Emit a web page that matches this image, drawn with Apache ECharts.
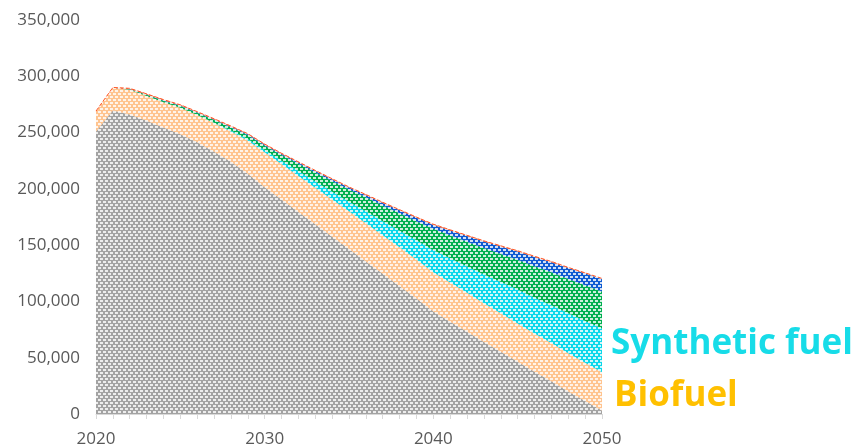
<!DOCTYPE html>
<html>
<head>
<meta charset="utf-8">
<script src="https://cdn.jsdelivr.net/npm/echarts@6/dist/echarts.min.js"></script>
<style>
html,body{margin:0;padding:0;background:#fff;}
#chart{width:857px;height:448px;}
</style>
</head>
<body>
<div id="chart"></div>
<script>
const years = [];
for (let y = 2020; y <= 2050; y++) years.push(String(y));

const fossil = [251000,269500,266000,260500,254500,248500,241500,233000,224000,213500,
  201500,190500,179500,168500,157500,146500,135500,124500,113500,102500,
  91000,82000,73000,64000,55200,46500,37500,29000,20000,11500,3000];
const biofuel = [17500,20000,22000,22000,22500,23500,24000,25500,27000,29500,
  31000,31500,32000,32500,33000,33500,34000,34300,34600,34800,
  35000,34800,34600,34400,34200,34000,34000,34000,34000,34000,34000];
const synthetic = [0,0,0,0,0,0,0,300,800,1400,
  2000,3000,4300,5600,7000,8500,10500,12500,14700,17000,
  19500,21500,23500,25500,27800,30000,31800,33600,35400,37200,39000];
const green = [0,0,500,1000,1300,1600,2000,2300,2700,3200,
  3800,5000,6500,8000,9500,11000,12500,14000,15500,17000,
  19000,20500,22000,23500,25000,26500,28000,29300,30500,31700,32800];
const blue = [0,0,200,300,400,500,500,600,700,800,
  900,1000,1100,1200,1400,1600,1900,2200,2600,3000,
  3500,4200,5000,5800,6600,7400,8200,9000,9700,10400,11000];
const red = [600,600,600,600,600,600,600,600,600,600,
  600,600,600,600,600,600,600,600,600,600,
  600,600,600,600,600,600,600,600,600,600,600];

const yTicks = [0, 50000, 100000, 150000, 200000, 250000, 300000, 350000];

function makePattern(color) {
  const c = document.createElement('canvas');
  c.width = 10; c.height = 6;
  const ctx = c.getContext('2d');
  ctx.fillStyle = color;
  ctx.fillRect(0, 0, 10, 6);
  ctx.fillStyle = 'rgba(255,255,255,0.8)';
  ctx.fillRect(0, 0, 3, 2);
  ctx.fillRect(5, 0, 3, 2);
  ctx.fillRect(3, 3, 3, 2);
  ctx.fillRect(8, 3, 2, 2);
  ctx.fillRect(0, 3, 1, 2);
  return { image: c, repeat: 'repeat' };
}

function areaSeries(name, data, color, line) {
  return {
    name: name,
    type: 'line',
    stack: 'total',
    data: data,
    symbol: 'none',
    smooth: false,
    lineStyle: line || { width: 0 },
    areaStyle: { color: makePattern(color), opacity: 1 },
    emphasis: { disabled: true }
  };
}

const chart = echarts.init(document.getElementById('chart'), null, { renderer: 'canvas' });
chart.setOption({
  animation: false,
  backgroundColor: '#ffffff',
  grid: { left: 96, right: 255, top: 20, bottom: 33, containLabel: false },
  xAxis: {
    type: 'category',
    data: years,
    boundaryGap: false,
    axisLine: { show: true, lineStyle: { color: '#D9D9D9', width: 1 } },
    axisTick: { show: true, interval: 0, length: 5, lineStyle: { color: '#D9D9D9' } },
    axisLabel: {
      interval: 9, color: '#595959', fontSize: 17, margin: 17,
      fontFamily: 'Open Sans'
    },
    splitLine: { show: false }
  },
  yAxis: {
    type: 'value',
    min: 0, max: 350000, interval: 50000,
    axisLine: { show: false },
    axisTick: { show: false },
    splitLine: { show: false },
    axisLabel: {
      color: '#595959', fontSize: 17, margin: 16, fontFamily: 'Open Sans',
      formatter: v => yTicks.includes(v) ? v.toLocaleString('en-US') : ''
    }
  },
  series: [
    areaSeries('Fossil', fossil, '#A3A3A3'),
    areaSeries('Biofuel', biofuel, '#FFC48F'),
    areaSeries('Synthetic fuel', synthetic, '#0AD8EA'),
    areaSeries('Green', green, '#00B050'),
    areaSeries('Blue', blue, '#0F5BD2'),
    areaSeries('Red', red, '#FF5A2A', { width: 1, color: '#FF5A2A', type: 'dashed' })
  ],
  graphic: [
    { type: 'text', left: 611, top: 327,
      style: { text: 'Synthetic fuel', fill: '#17DCE8', font: 'bold 35px "Open Sans"' } },
    { type: 'text', left: 614, top: 379,
      style: { text: 'Biofuel', fill: '#FFC000', font: 'bold 35px "Open Sans"' } }
  ]
});
</script>
</body>
</html>
